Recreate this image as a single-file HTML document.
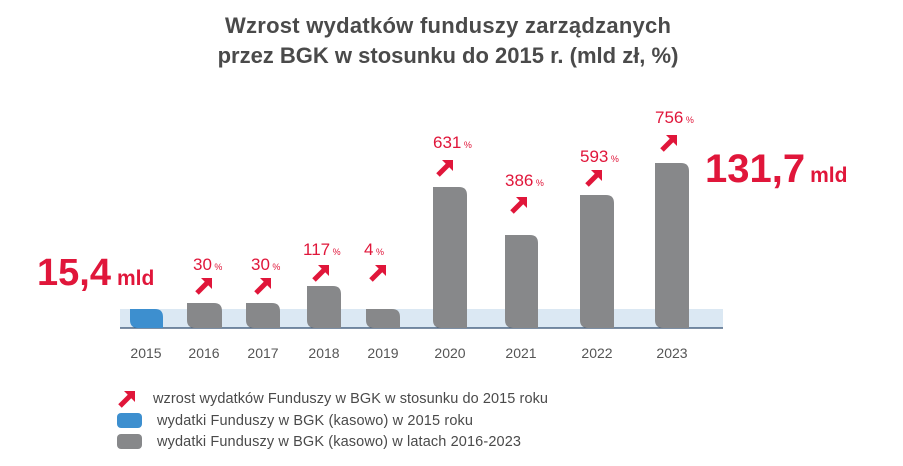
<!DOCTYPE html>
<html><head><meta charset="utf-8"><style>
body{margin:0;background:#fff;}
svg{display:block;font-family:"Liberation Sans",sans-serif;}
</style></head><body>
<svg width="903" height="466" viewBox="0 0 903 466">
<defs>
<g id="ar"><polygon points="6,0 17,0 17,11" fill="#e0163a"/><line x1="2" y1="15" x2="12" y2="5" stroke="#e0163a" stroke-width="5"/></g>
</defs>
<text x="448" y="33" text-anchor="middle" font-size="22" font-weight="bold" fill="#4a4a4a" textLength="446">Wzrost wydatków funduszy zarządzanych</text>
<text x="448" y="63" text-anchor="middle" font-size="22" font-weight="bold" fill="#4a4a4a">przez BGK w stosunku do 2015 r. (mld zł, %)</text>
<rect x="120" y="309" width="603" height="19" fill="#dbe8f3"/>
<line x1="120" y1="328" x2="723" y2="328" stroke="#2e4b6e" stroke-width="1.2"/>
<g fill="#87888a">
<path d="M130,309 H155 Q163,309 163,317 V328 H138 Q130,328 130,320 Z" fill="#3d8fcf"/>
<path d="M187,303 H214 Q222,303 222,311 V328 H195 Q187,328 187,320 Z"/>
<path d="M246,303 H272 Q280,303 280,311 V328 H254 Q246,328 246,320 Z"/>
<path d="M307,286 H333 Q341,286 341,294 V328 H315 Q307,328 307,320 Z"/>
<path d="M366,309 H392 Q400,309 400,317 V328 H374 Q366,328 366,320 Z"/>
<path d="M433,187 H459 Q467,187 467,195 V328 H441 Q433,328 433,320 Z"/>
<path d="M505,235 H530 Q538,235 538,243 V328 H513 Q505,328 505,320 Z"/>
<path d="M580,195 H606 Q614,195 614,203 V328 H588 Q580,328 580,320 Z"/>
<path d="M655,163 H681 Q689,163 689,171 V328 H663 Q655,328 655,320 Z"/>
</g>
<g font-size="14" fill="#555" text-anchor="middle">
<text x="146" y="358">2015</text><text x="204" y="358">2016</text><text x="263" y="358">2017</text><text x="324" y="358">2018</text><text x="383" y="358">2019</text><text x="450" y="358">2020</text><text x="521" y="358">2021</text><text x="597" y="358">2022</text><text x="672" y="358">2023</text>
</g>
<g fill="#e0163a" font-size="17">
<text x="193" y="270">30<tspan font-size="9"> %</tspan></text>
<text x="251" y="270">30<tspan font-size="9"> %</tspan></text>
<text x="303" y="255">117<tspan font-size="9"> %</tspan></text>
<text x="364" y="255">4<tspan font-size="9"> %</tspan></text>
<text x="433" y="148">631<tspan font-size="9"> %</tspan></text>
<text x="505" y="186">386<tspan font-size="9"> %</tspan></text>
<text x="580" y="162">593<tspan font-size="9"> %</tspan></text>
<text x="655" y="123">756<tspan font-size="9"> %</tspan></text>
</g>
<use href="#ar" x="195" y="278"/><use href="#ar" x="254" y="278"/><use href="#ar" x="312" y="265"/><use href="#ar" x="369" y="265"/>
<use href="#ar" x="436" y="160"/><use href="#ar" x="510" y="197"/><use href="#ar" x="585" y="170"/><use href="#ar" x="660" y="135"/>
<text x="37" y="285" fill="#e0163a" font-size="38" font-weight="bold">15,4<tspan font-size="21" dx="6">mld</tspan></text>
<text x="705" y="182" fill="#e0163a" font-size="40" font-weight="bold">131,7<tspan font-size="21" dx="5">mld</tspan></text>
<use href="#ar" x="118" y="391"/>
<rect x="117" y="413" width="25" height="15" rx="4" fill="#3d8fcf"/>
<rect x="117" y="434" width="25" height="15" rx="4" fill="#87888a"/>
<g font-size="14.5" fill="#4a4a4a">
<text x="153" y="403" textLength="395">wzrost wydatków Funduszy w BGK w stosunku do 2015 roku</text>
<text x="157" y="425" textLength="316">wydatki Funduszy w BGK (kasowo) w 2015 roku</text>
<text x="157" y="446" textLength="364">wydatki Funduszy w BGK (kasowo) w latach 2016-2023</text>
</g>
</svg>
</body></html>
